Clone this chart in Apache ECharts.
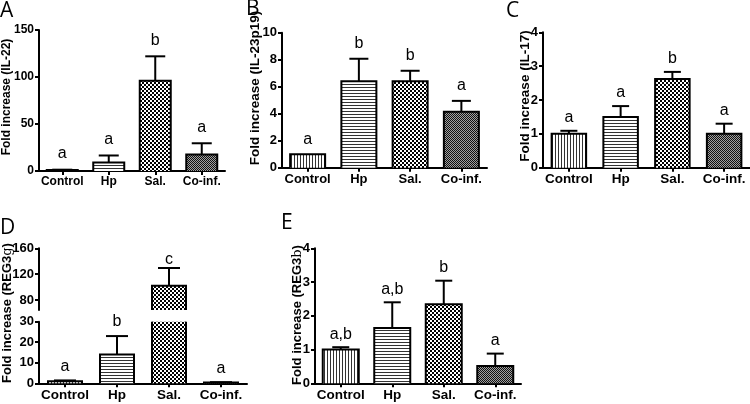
<!DOCTYPE html>
<html><head><meta charset="utf-8">
<script src="https://cdn.jsdelivr.net/npm/echarts@6/dist/echarts.min.js"></script>
<style>html,body{margin:0;padding:0;background:#fff}#c{width:750px;height:404px}</style>
</head><body><div id="c"></div>
<script>
// ---------- data ----------
const categories = ['Control', 'Hp', 'Sal.', 'Co-inf.'];

const il22Mean = [1.0, 9.0, 96, 17.5];
const il22ErrTop = [1.4, 16.5, 122, 29.5];
const il22Letters = ['a', 'a', 'b', 'a'];
const il22Ticks = [0, 50, 100, 150];

const il23Mean = [1.0, 6.4, 6.4, 4.15];
const il23ErrTop = [1.0, 8.07, 7.18, 4.95];
const il23Letters = ['a', 'b', 'b', 'a'];
const il23Ticks = [0, 2, 4, 6, 8, 10];

const il17Mean = [1.0, 1.5, 2.62, 1.0];
const il17ErrTop = [1.09, 1.82, 2.83, 1.3];
const il17Letters = ['a', 'a', 'b', 'a'];
const il17Ticks = [0, 1, 2, 3, 4];

const reg3gMean = [1.0, 14, 102, 0.4];
const reg3gErrTop = [1.4, 23, 129.5, 0.55];
const reg3gLetters = ['a', 'b', 'c', 'a'];
const reg3gLowerTicks = [0, 10, 20, 30];
const reg3gUpperTicks = [80, 120, 160];
const reg3gBreak = [30, 64.5];

const reg3bMean = [1.0, 1.64, 2.34, 0.51];
const reg3bErrTop = [1.07, 2.4, 3.04, 0.88];
const reg3bLetters = ['a,b', 'a,b', 'b', 'a'];
const reg3bTicks = [0, 1, 2, 3, 4];

// ---------- patterns ----------
function pat(type) {
  const c = document.createElement('canvas');
  const g = c.getContext('2d');
  if (type === 'vert') {
    c.width = 3; c.height = 3;
    g.fillStyle = '#fff'; g.fillRect(0, 0, 3, 3);
    g.fillStyle = '#333'; g.fillRect(0, 0, 1, 3);
  } else if (type === 'horz') {
    c.width = 3; c.height = 3;
    g.fillStyle = '#fff'; g.fillRect(0, 0, 3, 3);
    g.fillStyle = '#333'; g.fillRect(0, 0, 3, 1);
  } else if (type === 'check') {
    c.width = 4; c.height = 4;
    g.fillStyle = '#fff'; g.fillRect(0, 0, 4, 4);
    g.fillStyle = '#000'; g.fillRect(0, 0, 2, 2); g.fillRect(2, 2, 2, 2);
  } else {
    c.width = 2; c.height = 2;
    g.fillStyle = '#a0a0a0'; g.fillRect(0, 0, 2, 2);
    g.fillStyle = '#111'; g.fillRect(0, 0, 1, 1); g.fillRect(1, 1, 1, 1);
  }
  return { image: c, repeat: 'repeat' };
}
const patterns = [pat('vert'), pat('horz'), pat('check'), pat('fine')];

const FF = "'Liberation Sans', Arial, sans-serif";

function makeRender(cfg) {
  return function (params, api) {
    const i = params.dataIndex;
    const v = cfg.mean[i], e = cfg.err[i];
    const base = Math.max(0, cfg.min);
    const bw = cfg.barWidth;
    const pb = api.coord([i, base]);
    const cx = pb[0], yBase = pb[1];
    const x0 = cx - bw / 2;
    const children = [];
    let labelY = null;
    if (v > base) {
      const top = Math.min(v, cfg.max);
      const yTop = api.coord([i, top])[1];
      children.push({ type: 'rect', shape: { x: x0, y: yTop, width: bw, height: yBase - yTop },
        style: { fill: patterns[i] } });
      if (v > cfg.max) {
        children.push({ type: 'line', shape: { x1: x0, y1: yBase, x2: x0, y2: yTop }, style: { stroke: '#000', lineWidth: 2 } });
        children.push({ type: 'line', shape: { x1: x0 + bw, y1: yBase, x2: x0 + bw, y2: yTop }, style: { stroke: '#000', lineWidth: 2 } });
      } else {
        children.push({ type: 'polyline', shape: { points: [[x0, yBase], [x0, yTop], [x0 + bw, yTop], [x0 + bw, yBase]] },
          style: { stroke: '#000', lineWidth: 2, fill: 'none' } });
        labelY = yTop;
      }
    }
    if (e > v && e <= cfg.max && e > cfg.min) {
      const yE = api.coord([i, e])[1];
      const yF = api.coord([i, Math.max(v, cfg.min)])[1];
      children.push({ type: 'line', shape: { x1: cx, y1: yF, x2: cx, y2: yE }, style: { stroke: '#000', lineWidth: 2 } });
      children.push({ type: 'line', shape: { x1: cx - cfg.cap, y1: yE, x2: cx + cfg.cap, y2: yE }, style: { stroke: '#000', lineWidth: 2 } });
      labelY = yE;
    }
    if (labelY !== null) {
      children.push({ type: 'text', style: { text: cfg.letters[i], x: cx, y: labelY - cfg.gap + 3,
        textAlign: 'center', textVerticalAlign: 'bottom', fontSize: 16, fontFamily: FF, fill: '#000' } });
    }
    return { type: 'group', children: children };
  };
}

const panels = [
  { grid: { left: 39, top: 30, width: 186, height: 141 }, mean: il22Mean, err: il22ErrTop, letters: il22Letters, ticks: il22Ticks, barWidth: 31, cap: 10, gap: 11, fs: 12, tfs: 12 },
  { grid: { left: 282, top: 32.7, width: 205, height: 135 }, mean: il23Mean, err: il23ErrTop, letters: il23Letters, ticks: il23Ticks, barWidth: 35, cap: 9.5, gap: 10, fs: 13, tfs: 13 },
  { grid: { left: 543, top: 32.3, width: 207, height: 135.4 }, mean: il17Mean, err: il17ErrTop, letters: il17Letters, ticks: il17Ticks, barWidth: 34.5, cap: 8.5, gap: 8, fs: 13.5, tfs: 13 },
  { grid: { left: 39, top: 321.7, width: 208, height: 61.6 }, mean: reg3gMean, err: reg3gErrTop, letters: reg3gLetters, ticks: reg3gLowerTicks, barWidth: 34, cap: 11, gap: 9, fs: 13.5, tfs: 13 },
  { grid: { left: 39, top: 248.3, width: 208, height: 61.7 }, mean: reg3gMean, err: reg3gErrTop, letters: reg3gLetters, ticks: reg3gUpperTicks, min: reg3gBreak[1], barWidth: 34, cap: 11, gap: 3, fs: 13.5, tfs: 13, hideX: true },
  { grid: { left: 315, top: 248.3, width: 206, height: 135 }, mean: reg3bMean, err: reg3bErrTop, letters: reg3bLetters, ticks: reg3bTicks, barWidth: 36, cap: 8.5, gap: 8, fs: 13.5, tfs: 13 }
];

const grids = [], xAxes = [], yAxes = [], series = [];
panels.forEach(function (p, k) {
  const min = (p.min !== undefined) ? p.min : p.ticks[0];
  const max = p.ticks[p.ticks.length - 1];
  grids.push(Object.assign({ containLabel: false }, p.grid));
  xAxes.push({
    type: 'category', gridIndex: k, data: categories, show: !p.hideX,
    axisLine: { show: true, lineStyle: { color: '#000', width: 2 } },
    axisTick: { show: true, alignWithLabel: true, length: 4, lineStyle: { color: '#000', width: 2 } },
    axisLabel: { color: '#000', fontWeight: 'bold', fontSize: p.fs, fontFamily: FF, margin: 5, interval: 0 },
    splitLine: { show: false }
  });
  const y = {
    type: 'value', gridIndex: k, min: min, max: max,
    axisLine: { show: true, lineStyle: { color: '#000', width: 2 } },
    axisTick: { show: true, length: 4, lineStyle: { color: '#000', width: 2 } },
    axisLabel: { color: '#000', fontWeight: 'bold', fontSize: p.tfs, fontFamily: FF, margin: 5 },
    splitLine: { show: false }
  };
  if (p.min !== undefined) {
    y.axisLabel.customValues = p.ticks;
    y.axisTick.customValues = p.ticks;
  } else {
    y.interval = p.ticks[1] - p.ticks[0];
  }
  yAxes.push(y);
  series.push({
    type: 'custom', xAxisIndex: k, yAxisIndex: k, coordinateSystem: 'cartesian2d',
    data: p.mean.map(function (m, i) { return [i, m, p.err[i]]; }),
    encode: { x: 0, y: 1 }, clip: false, silent: true,
    renderItem: makeRender({ mean: p.mean, err: p.err, letters: p.letters, min: min, max: max, barWidth: p.barWidth, cap: p.cap, gap: p.gap })
  });
});

function yName(text, x, y, fs) {
  return { type: 'text', x: x, y: y, rotation: Math.PI / 2,
    style: { text: text, fontSize: fs, fontWeight: 'bold', fontFamily: FF, fill: '#000', textAlign: 'center', textVerticalAlign: 'middle',
      rich: { n: { fontSize: fs, fontWeight: 'normal', fontFamily: "'DejaVu Serif', serif", fill: '#000' } } } };
}
function panelLetter(t, x, y) {
  return { type: 'text', x: x, y: y, style: { text: t, fontSize: 21, fontFamily: "'Open Sans', sans-serif", fill: '#000', textAlign: 'left', textVerticalAlign: 'top' } };
}

const chart = echarts.init(document.getElementById('c'), null, { renderer: 'canvas' });
chart.setOption({
  animation: false,
  backgroundColor: '#fff',
  grid: grids, xAxis: xAxes, yAxis: yAxes, series: series,
  graphic: [
    yName('Fold increase (IL-22)', 7, 97, 12),
    yName('Fold increase (IL-23p19)', 255.5, 88, 13.5),
    yName('Fold increase (IL-17)', 525, 96, 13.5),
    yName('Fold increase (REG3{n|g})', 7.5, 313, 13),
    yName('Fold increase (REG3{n|b})', 297.5, 315, 13),
    panelLetter('A', 0, 1),
    panelLetter('B', 246, -1),
    panelLetter('C', 506, 1),
    panelLetter('D', 0, 218),
    panelLetter('E', 281, 213)
  ]
});
</script></body></html>
